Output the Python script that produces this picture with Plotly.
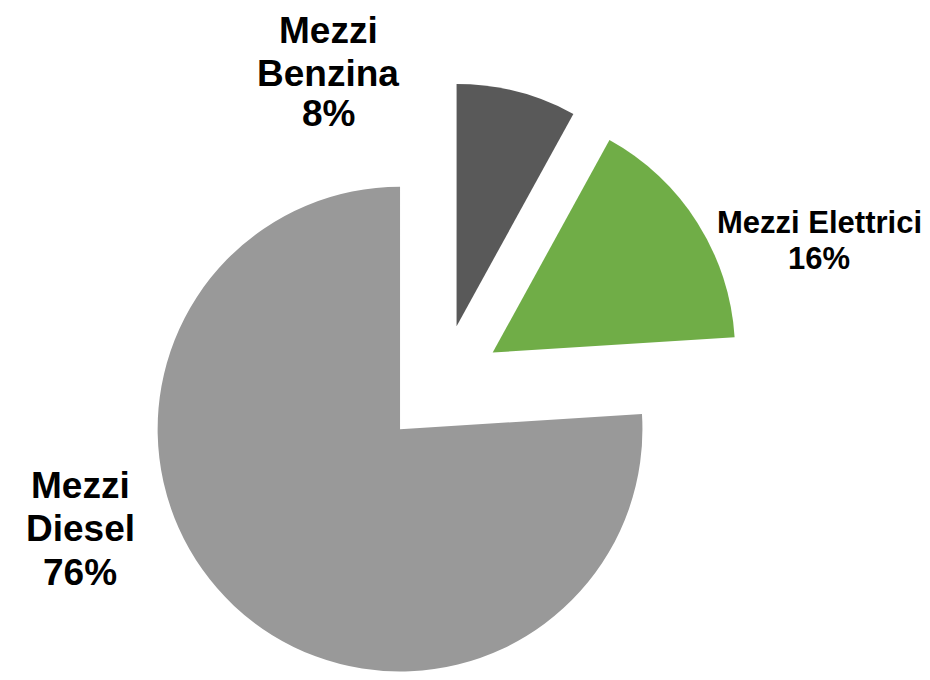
import plotly.graph_objects as go

# ---- data ----
categories = ["Mezzi Benzina", "Mezzi Elettrici", "Mezzi Diesel"]
values = [8, 16, 76]
colors = ["#595959", "#70ad47", "#999999"]
pulls = [0.25, 0.25, 0.25]

# label lines (text only)
label_lines = {
    "Mezzi Benzina": ["Mezzi", "Benzina", "8%"],
    "Mezzi Elettrici": ["Mezzi Elettrici", "16%"],
    "Mezzi Diesel": ["Mezzi", "Diesel", "76%"],
}

W, H = 930, 680
OFF = 8  # page body margin offset seen in the screenshot
M_T, M_B, M_L, M_R = 74, 0, 0, 0
PH = H - M_T - M_B

def px(x):
    return (x - OFF - M_L) / (W - M_L - M_R)

def py(y):
    return (H - M_B - (y - OFF)) / PH

fig = go.Figure()
fig.add_trace(go.Pie(
    labels=categories,
    values=values,
    sort=False,
    direction="clockwise",
    rotation=0,
    pull=pulls,
    marker=dict(colors=colors, line=dict(width=0)),
    textinfo="none",
    hoverinfo="label+percent",
    showlegend=False,
    domain=dict(x=[0.1328, 0.7995], y=[0, 1]),
))

FONT = "Arial, Liberation Sans, sans-serif"
# (center x, baseline y, font size) per line, in screenshot pixels
label_layout = {
    "Mezzi Benzina": (328, [45, 88, 128], 37),
    "Mezzi Elettrici": (819, [235, 271], 31),
    "Mezzi Diesel": (80, [500, 543, 587], 37),
}
for cat in categories:
    cx, baselines, size = label_layout[cat]
    for line, base in zip(label_lines[cat], baselines):
        fig.add_annotation(
            text="<b>%s</b>" % line,
            xref="paper", yref="paper",
            x=px(cx), y=py(base - 1 - 0.36 * size),
            xanchor="center", yanchor="middle",
            showarrow=False,
            font=dict(family=FONT, size=size, color="#000000"),
        )

fig.update_layout(
    width=W, height=H,
    margin=dict(t=M_T, b=M_B, l=M_L, r=M_R),
    paper_bgcolor="white",
    plot_bgcolor="white",
)

fig.write_html("out.html")
